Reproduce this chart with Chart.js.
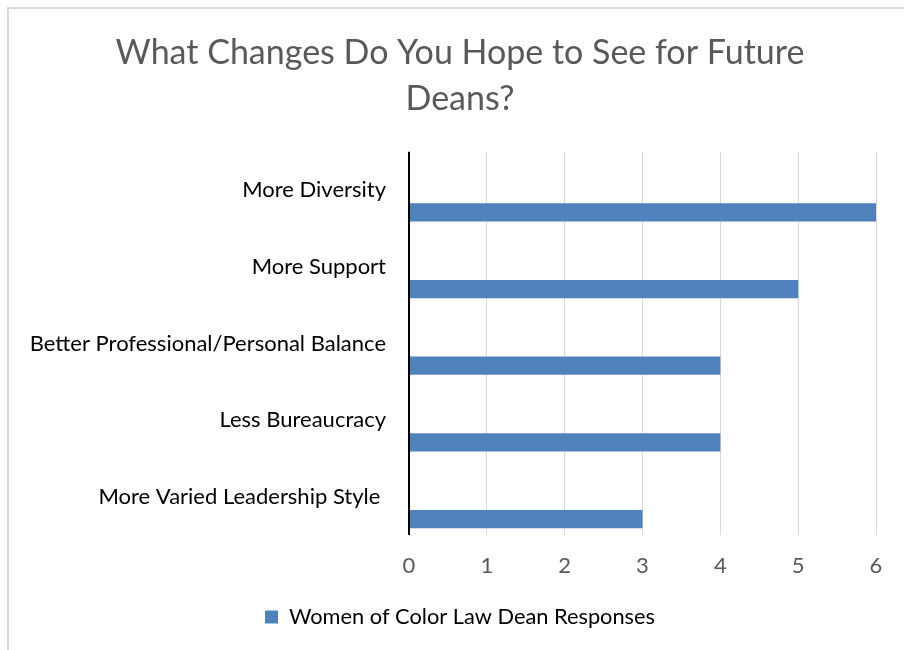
<!DOCTYPE html>
<html>
<head>
<meta charset="utf-8">
<title>What Changes Do You Hope to See for Future Deans?</title>
<script src="https://cdn.jsdelivr.net/npm/chart.js@4.4.1/dist/chart.umd.min.js"></script>
<style>
    html, body { margin: 0; padding: 0; background: #fff; }
    #frame {
        position: absolute; left: 7px; top: 7px; width: 900px; height: 650px;
        border-left: 2px solid #d9d9d9; border-top: 2px solid #d9d9d9;
    }
    #wrap { position: absolute; left: 0; top: 0; width: 904px; height: 650px; }
</style>
</head>
<body>
<div id="frame"></div>
<div id="wrap"><canvas id="deansChart"></canvas></div>
<script>
// Chart data
const categories = [
    'More Diversity',
    'More Support',
    'Better Professional/Personal Balance',
    'Less Bureaucracy',
    'More Varied Leadership Style '
];
const responses = [6, 5, 4, 4, 3];
const xTicks = [0, 1, 2, 3, 4, 5, 6];
const seriesName = 'Women of Color Law Dean Responses';

const FONT = 'Lato, "Open Sans", sans-serif';

// long category labels run left of the layout padding, so widen the y axis clip box
const labelRoom = {
    id: 'labelRoom',
    afterLayout(chart) {
        chart.scales.y.left = 0;
    }
};

document.addEventListener('DOMContentLoaded', function() {
    initializeChart();
});

function initializeChart() {
    const ctx = document.getElementById('deansChart');

    new Chart(ctx, {
        type: 'bar',
        data: {
            labels: categories,
            datasets: [{
                // empty series: keeps the top half of each category free, like the original
                label: '',
                data: categories.map(() => null),
                backgroundColor: 'rgba(0,0,0,0)'
            }, {
                label: seriesName,
                data: responses,
                backgroundColor: '#4f81bd'
            }]
        },
        plugins: [labelRoom],
        options: {
            indexAxis: 'y',
            responsive: true,
            maintainAspectRatio: false,
            animation: false,
            datasets: {
                bar: {
                    categoryPercentage: 1.16,
                    barPercentage: 0.41
                }
            },
            layout: {
                // left padding keeps title and legend centred where the original has them
                padding: { left: 44, right: 28, top: 0, bottom: 12 }
            },
            plugins: {
                title: {
                    display: true,
                    text: ['What Changes Do You Hope to See for Future', 'Deans?'],
                    color: '#595959',
                    font: { family: FONT, size: 34, weight: 'normal', lineHeight: 1.35 },
                    padding: { top: 30, bottom: 30 }
                },
                legend: {
                    position: 'bottom',
                    labels: {
                        filter: item => item.text !== '',
                        color: '#000',
                        boxWidth: 13,
                        boxHeight: 13,
                        font: { family: FONT, size: 21.8 }
                    }
                },
                tooltip: { enabled: false }
            },
            scales: {
                x: {
                    min: 0,
                    max: 6,
                    afterBuildTicks: scale => {
                        scale.ticks = xTicks.map(v => ({ value: v }));
                    },
                    grid: {
                        color: c => (c.tick && c.tick.value === 0) ? '#000' : '#d9d9d9',
                        lineWidth: c => (c.tick && c.tick.value === 0) ? 2 : 1,
                        drawTicks: false
                    },
                    border: { display: false },
                    ticks: {
                        color: '#595959',
                        padding: 18,
                        font: { family: FONT, size: 22 }
                    },
                    afterFit: scale => { scale.height = 61; }
                },
                y: {
                    grid: { display: false, drawTicks: false },
                    border: { display: false },
                    ticks: {
                        color: '#000',
                        padding: 23,
                        font: { family: FONT, size: 22 }
                    },
                    afterFit: scale => { scale.width = 365; }
                }
            }
        }
    });
}
</script>
</body>
</html>
